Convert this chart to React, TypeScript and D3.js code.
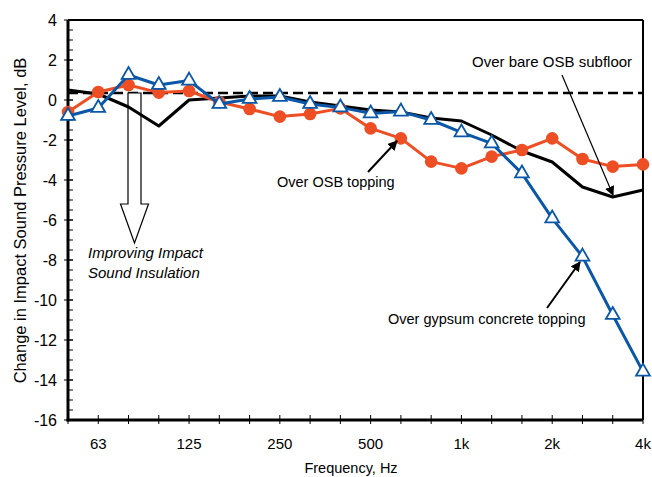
import React from "react";
import * as d3 from "d3";

const bands = ["50","63","80","100","125","160","200","250","315","400","500","630","800","1k","1.25k","1.6k","2k","2.5k","3.15k","4k"];
const labeledBands = ["63","125","250","500","1k","2k","4k"];
const bareOSB = [0.5,0.3,-0.35,-1.3,0.0,0.1,0.2,0.2,-0.1,-0.3,-0.5,-0.6,-0.9,-1.05,-1.75,-2.55,-3.1,-4.35,-4.85,-4.5];
const osbTopping = [-0.6,0.4,0.75,0.37,0.45,-0.1,-0.45,-0.83,-0.7,-0.42,-1.42,-1.92,-3.08,-3.42,-2.83,-2.5,-1.92,-2.95,-3.33,-3.22];
const gypsumTopping = [-0.8,-0.4,1.25,0.75,0.97,-0.2,0.05,0.15,-0.2,-0.37,-0.67,-0.58,-1.0,-1.62,-2.17,-3.67,-5.92,-7.83,-10.75,-13.58];
const yTicks = [4,2,0,-2,-4,-6,-8,-10,-12,-14,-16];
const referenceLevel = 0.35;

const W = 652, H = 477;
const left = 68, right = 643, top = 20, bottom = 420;

export default function App() {
  const x = d3.scalePoint<string>().domain(bands).range([left, right]);
  const y = d3.scaleLinear().domain([-16, 4]).range([bottom, top]);
  const line = d3.line<number>().x((_, i) => x(bands[i])!).y(d => y(d));
  const minor = d3.range(-16, 4.01, 0.5);
  const tri = d3.symbol().type(d3.symbolTriangle).size(82)()!;
  const font = "Liberation Sans, Arial, Helvetica, sans-serif";
  const orange = "#EE4E24";
  const blue = "#0A57A8";

  const yRef = y(referenceLevel);
  const ax = 134.5;
  const arrowPts = [
    [ax - 6.5, yRef], [ax + 6.5, yRef], [ax + 6.5, 204], [ax + 14, 204],
    [ax, 243], [ax - 14, 204], [ax - 6.5, 204]
  ].map(p => p.join(",")).join(" ");

  return (
    <svg width={W} height={H} style={{ position: "absolute", left: 0, top: 0, background: "#fff" }} fontFamily={font}>
      <defs>
        <marker id="ah" viewBox="0 0 10 10" refX="9" refY="5" markerWidth="5" markerHeight="5" orient="auto" markerUnits="strokeWidth">
          <path d="M0,0 L10,5 L0,10 z" fill="#000" />
        </marker>
        <marker id="ahThin" viewBox="0 0 10 10" refX="9" refY="5" markerWidth="8" markerHeight="8" orient="auto" markerUnits="strokeWidth">
          <path d="M0,0 L10,5 L0,10 z" fill="#000" />
        </marker>
      </defs>
      <line x1={left} x2={right} y1={top} y2={top} stroke="#000" strokeWidth={2} />
      <line x1={right} x2={right} y1={top} y2={bottom} stroke="#000" strokeWidth={2} />
      {minor.map(v => (
        <line key={"m" + v} x1={left} x2={left + 5} y1={y(v)} y2={y(v)} stroke="#000" strokeWidth={1} />
      ))}
      {yTicks.map(v => (
        <g key={"y" + v}>
          <line x1={left - 4} x2={left + 5} y1={y(v)} y2={y(v)} stroke="#000" strokeWidth={1} />
          <text x={57} y={y(v)} dy="0.36em" textAnchor="end" fontSize={16}>{v}</text>
        </g>
      ))}
      {bands.map(b => (
        <line key={"x" + b} x1={x(b)} x2={x(b)} y1={bottom - 5} y2={bottom + 4} stroke="#000" strokeWidth={1} />
      ))}
      {labeledBands.map(b => (
        <text key={"xl" + b} x={x(b)} y={449} textAnchor="middle" fontSize={15}>{b}</text>
      ))}
      <line x1={left} x2={left} y1={top} y2={bottom + 1.5} stroke="#000" strokeWidth={3} />
      <line x1={left - 1.5} x2={right} y1={bottom} y2={bottom} stroke="#000" strokeWidth={3} />

      <text x={351} y={473} textAnchor="middle" fontSize={14.5}>Frequency, Hz</text>
      <text transform={`translate(26,${(56 + 385) / 2}) rotate(-90)`} textAnchor="middle" fontSize={16.5}>
        Change in Impact Sound Pressure Level, dB
      </text>

      <line x1={left} x2={right} y1={yRef} y2={yRef} stroke="#000" strokeWidth={2.5} strokeDasharray="10,5" />

      <polygon points={arrowPts} fill="#fff" stroke="#000" strokeWidth={1.2} />
      <text x={88} y={258} fontSize={15} fontStyle="italic">Improving Impact</text>
      <text x={88} y={278} fontSize={15} fontStyle="italic">Sound Insulation</text>

      <path d={line(bareOSB)!} fill="none" stroke="#000" strokeWidth={3} strokeLinejoin="round" />
      <path d={line(osbTopping)!} fill="none" stroke={orange} strokeWidth={3} strokeLinejoin="round" />
      {osbTopping.map((v, i) => (
        <circle key={"o" + i} cx={x(bands[i])} cy={y(v)} r={6.3} fill={orange} />
      ))}
      <path d={line(gypsumTopping)!} fill="none" stroke={blue} strokeWidth={3} strokeLinejoin="round" />
      {gypsumTopping.map((v, i) => (
        <path key={"t" + i} d={tri} transform={`translate(${x(bands[i])},${y(v)})`} fill="#fff" stroke={blue} strokeWidth={1.8} />
      ))}

      <text x={472} y={67} fontSize={15}>Over bare OSB subfloor</text>
      <line x1={562} y1={75} x2={613} y2={195} stroke="#000" strokeWidth={1.2} markerEnd="url(#ahThin)" />
      <text x={277} y={187} fontSize={14.5}>Over OSB topping</text>
      <line x1={368} y1={172} x2={397} y2={141} stroke="#000" strokeWidth={2} markerEnd="url(#ah)" />
      <text x={388} y={324} fontSize={14.5}>Over gypsum concrete topping</text>
      <line x1={547} y1={308} x2={580} y2={262} stroke="#000" strokeWidth={2} markerEnd="url(#ah)" />
    </svg>
  );
}
